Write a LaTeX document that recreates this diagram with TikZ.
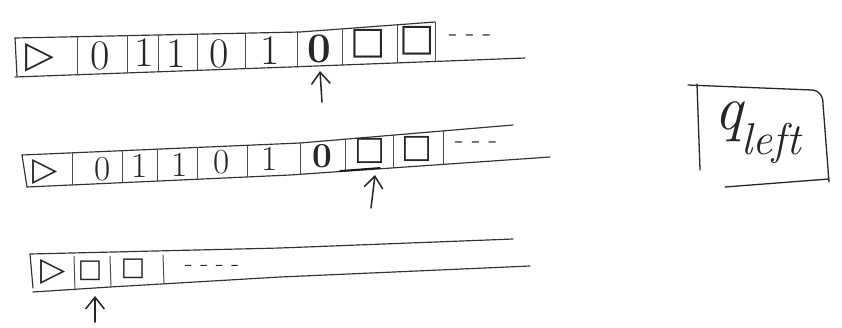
\documentclass[tikz,border=0pt]{standalone}
\usepackage{fontspec}
\newfontfamily\tmsym{DejaVu Sans}
\usetikzlibrary{arrows.meta}
\begin{document}
\begin{tikzpicture}[x=0.03cm,y=-0.03cm,
  tapeline/.style={line width=1pt, draw=black!80, line cap=round, line join=round},
  sepline/.style={line width=0.85pt, draw=black!70, line cap=round},
  cellsym/.style={inner sep=0pt, anchor=center, text=black!85},
  digA/.style={cellsym, font=\fontsize{36}{36}\selectfont},
  digB/.style={cellsym, font=\fontsize{30}{30}\selectfont},
  shpA/.style={cellsym, font=\tmsym\fontsize{32}{32}\selectfont},
  shpB/.style={cellsym, font=\tmsym\fontsize{28}{28}\selectfont},
  shpC/.style={cellsym, font=\tmsym\fontsize{22}{22}\selectfont},
  dots/.style={cellsym, font=\fontsize{24}{24}\selectfont},
  headarrow/.style={line width=1.3pt, draw=black!85, line cap=round,
    -{Straight Barb[length=10pt,width=16pt,line width=1.3pt]}},
  boxline/.style={line width=1.1pt, draw=black!85, line cap=round, line join=round},
]
\useasboundingbox (0,0) rectangle (842,327);

% ---------------- Tape 1 ----------------
\draw[tapeline] (15,38) -- (300,32) -- (435,22);
\draw[tapeline] (15,77) -- (290,67) -- (525,58);
\draw[tapeline] (15,38) -- (17,76);
\foreach \x/\t/\b in {77/36.7/74.7, 127/35.6/72.9, 158/35.0/71.8, 197/34.2/70.4,
  245/33.2/68.6, 297/32.1/66.9, 342/28.9/65.0, 397/24.8/62.9, 435/22.0/61.4}
  \draw[sepline] (\x,\t) -- (\x,\b);
\node[shpA] (t1a) at (40,58) {▷};
\node[digA] (t1b) at (100,56) {0};
\node[digA] (t1c) at (144,53) {1};
\node[digA] (t1d) at (176,54) {1};
\node[digA] (t1e) at (219,54) {0};
\node[digA] (t1f) at (270,51) {1};
\node[digA] (t1g) at (319,49) {\textbf{0}};
\node[shpA] (t1h) at (368,44) {□};
\node[shpA] (t1i) at (417,41) {□};
\node[dots] (t1j) at (470,38) {- - -};
\coordinate (h1tail) at (322,102);
\coordinate (h1tip) at (320,71);
\draw[headarrow] (h1tail) -- (h1tip);

% ---------------- Tape 2 ----------------
\draw[tapeline] (22,155) -- (300,143) -- (513,125);
\draw[tapeline] (27,187) -- (290,175) -- (550,157);
\draw[tapeline] (22,155) -- (27,187);
\foreach \x/\t/\b in {72/152.8/185.0, 122/150.7/182.7, 157/149.2/181.1, 197/147.4/179.3,
  247/145.3/177.0, 300/143.0/174.3, 345/139.2/171.2, 393/135.1/167.9, 443/130.9/164.5}
  \draw[sepline] (\x,\t) -- (\x,\b);
\draw[line width=1.6pt, draw=black!90, line cap=round] (340,171) -- (380,168);
\node[shpB] (t2a) at (45,172) {▷};
\node[digB] (t2b) at (103,169) {0};
\node[digB] (t2c) at (140,166) {1};
\node[digB] (t2d) at (180,165) {1};
\node[digB] (t2e) at (222,162) {0};
\node[digB] (t2f) at (270,159) {1};
\node[digB] (t2g) at (322,156) {\textbf{0}};
\node[shpB] (t2h) at (370,151) {□};
\node[shpB] (t2i) at (417,149) {□};
\node[dots] (t2j) at (476,145) {- - -};
\coordinate (h2tail) at (371,208);
\coordinate (h2tip) at (375,175);
\draw[headarrow] (h2tail) -- (h2tip);

% ---------------- Tape 3 ----------------
\draw[tapeline] (30,254) -- (280,248) -- (513,239);
\draw[tapeline] (33,292) -- (110,287) -- (280,277) -- (530,266);
\draw[tapeline] (30,254) -- (33,288);
\draw[sepline] (74,256) -- (75,290);
\draw[sepline] (110,256) -- (111,287);
\draw[sepline] (163,255) -- (164,284);
\node[shpB] (t3a) at (53,272) {▷};
\node[shpC] (t3b) at (90,271) {□};
\node[shpC] (t3c) at (133,269) {□};
\node[cellsym, font=\fontsize{22}{22}\selectfont] (t3d) at (212,268) {- - - -};
\coordinate (h3tail) at (95,322);
\coordinate (h3tip) at (95,296);
\draw[headarrow] (h3tail) -- (h3tip);

% ---------------- State box ----------------
\draw[boxline] (688,85) -- (812,90) .. controls (820,91) and (823,96) .. (823,104) -- (829,182);
\draw[boxline] (697,84) -- (700,170);
\draw[boxline] (725,187) -- (829,179);
\node[inner sep=0pt, anchor=base west, text=black!85, font=\itshape\fontsize{54}{54}\selectfont]
  (state) at (714,129) {q\kern-1pt\raisebox{-22pt}{\fontsize{38}{38}\selectfont left}};
\end{tikzpicture}
\end{document}
